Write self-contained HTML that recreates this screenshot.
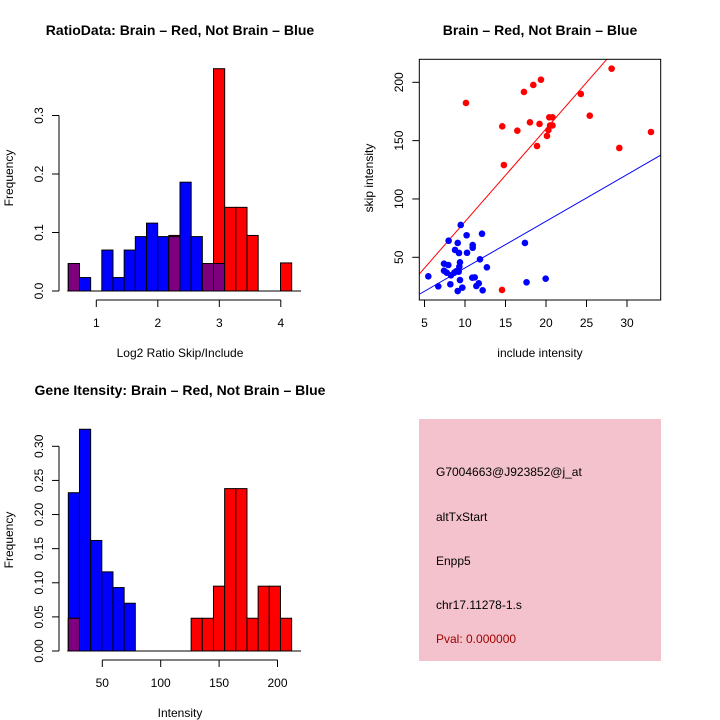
<!DOCTYPE html>
<html><head><meta charset="utf-8"><style>
body{margin:0;background:#fff}
svg{display:block;font-family:"Liberation Sans",sans-serif}
</style></head><body>
<svg id="c" width="720" height="720" viewBox="0 0 720 720">
<rect width="720" height="720" fill="#fff"/>
<text x="180" y="35" font-size="14" font-weight="bold" text-anchor="middle">RatioData: Brain – Red, Not Brain – Blue</text>
<text x="540" y="35" font-size="14" font-weight="bold" text-anchor="middle">Brain – Red, Not Brain – Blue</text>
<text x="180" y="395" font-size="14" font-weight="bold" text-anchor="middle">Gene Itensity: Brain – Red, Not Brain – Blue</text>
<text x="180" y="357" font-size="12" text-anchor="middle">Log2 Ratio Skip/Include</text>
<text transform="translate(13,178) rotate(-90)" font-size="12" text-anchor="middle">Frequency</text>
<text x="540" y="357" font-size="12" text-anchor="middle">include intensity</text>
<text transform="translate(373,178) rotate(-90)" font-size="12" text-anchor="middle">skip intensity</text>
<text x="180" y="717" font-size="12" text-anchor="middle">Intensity</text>
<text transform="translate(13,540) rotate(-90)" font-size="12" text-anchor="middle">Frequency</text>
<g>
<rect x="419" y="419" width="242" height="242" fill="#f4c2cc"/>
<text x="436" y="476" font-size="12">G7004663@J923852@j_at</text>
<text x="436" y="521" font-size="12">altTxStart</text>
<text x="436" y="565" font-size="12">Enpp5</text>
<text x="436" y="609" font-size="12">chr17.11278-1.s</text>
<text x="436" y="643" font-size="12" fill="#a00000">Pval: 0.000000</text>
</g>
<g id="h1"></g><g id="sc"></g><g id="h2"></g>
</svg>
<script>
// Ratio histogram data
const ratioBinStart = 0.545, ratioBinWidth = 0.1816;
const ratioBlue = [0.047,0.023,0,0.07,0.023,0.07,0.093,0.116,0.093,0.093,0.186,0.093,0.047,0.047,0,0,0,0,0,0];
const ratioRed  = [0.047,0,0,0,0,0,0,0,0,0.095,0,0,0.047,0.38,0.143,0.143,0.095,0,0,0.048];
const ratioXTicks = [1,2,3,4];
const ratioYTicks = ["0.0","0.1","0.2","0.3"];
// Intensity histogram data
const intBinStart = 20.9, intBinWidth = 9.56;
const intBlue = [0.232,0.325,0.162,0.116,0.093,0.07,0,0,0,0,0,0,0,0,0,0,0,0,0,0];
const intRed  = [0.048,0,0,0,0,0,0,0,0,0,0,0.048,0.048,0.095,0.238,0.238,0.048,0.095,0.095,0.048];
const intXTicks = [50,100,150,200];
const intYTicks = ["0.00","0.05","0.10","0.15","0.20","0.25","0.30"];
// Scatter data
const redX = [10.12,14.6,14.8,14.57,16.46,17.28,18.43,19.38,18.02,19.2,18.89,20.12,20.3,20.5,20.4,20.8,20.8,24.3,25.4,28.1,29.05,32.96];
const redY = [182.3,162.3,129.1,22,158.5,191.7,197.7,202.2,165.7,164.3,145.4,154,159.1,163,170,170,163,190,171.4,211.7,143.7,157.4];
const blueX = [5.47,6.7,7.98,9.47,9.1,10.2,12.1,8.77,9.26,10.25,10.95,10.95,11.85,12.7,17.4,17.6,19.96,7.41,7.94,7.41,7.74,8.27,8.68,9.22,9.38,9.3,8.19,9.1,9.67,9.38,10.9,11.2,11.7,11.4,12.18,8.9];
const blueY = [33.7,25.1,64.2,77.7,62.3,68.9,70.2,56.3,53.7,53.9,60.5,58.2,48.3,41.4,62.3,28.6,31.7,44.5,43.4,38.5,36.8,34.6,36.8,37.7,45.7,41.9,26.9,21.1,24,30.5,32.5,32.8,27.7,25.4,21.7,38];
const fitIntercept = [1.04,0.9];
const fitSlope = [7.95,4.0];
const scXTicks = [5,10,15,20,25,30];
const scYTicks = [50,100,150,200];

const NS="http://www.w3.org/2000/svg";
function mk(p,tag,a){const e=document.createElementNS(NS,tag);for(const k in a)e.setAttribute(k,a[k]);p.appendChild(e);return e;}

function hist(g,blue,red,start,w,xs,ys,y0,yUnitPx,xTicks,yTicks,yStep,axisY,name){
  const n=blue.length;
  for(let i=0;i<n;i++){
    const x0=xs(start+i*w),x1=xs(start+(i+1)*w);
    const b=blue[i],r=red[i],m=Math.min(b,r);
    const draw=(v,col,nm)=>{if(v<=0)return;const e=mk(g,'rect',{x:x0,y:ys(v),width:x1-x0,height:y0-ys(v),fill:col,stroke:'#000','stroke-width':1});
      
      };
    draw(b,'#0000ff',name+'-blue-bar-'+(i+1));
    draw(r,'#ff0000',name+'-red-bar-'+(i+1));
    if(m>0)draw(m,'#7f007f',name+'-overlap-bar-'+(i+1));
  }
  const base=mk(g,'line',{x1:xs(start)-1,x2:301,y1:y0,y2:y0,stroke:'#000'});
  
  
  const xa=mk(g,'line',{x1:xs(xTicks[0]),x2:xs(xTicks[xTicks.length-1]),y1:axisY,y2:axisY,stroke:'#000'});
  
  
  xTicks.forEach(t=>{mk(g,'line',{x1:xs(t),x2:xs(t),y1:axisY,y2:axisY+7,stroke:'#000'});
    const tx=mk(g,'text',{x:xs(t),y:axisY+27,'font-size':12,'text-anchor':'middle'});tx.textContent=t;
    
    });
  const ya=mk(g,'line',{x1:59,x2:59,y1:ys(0),y2:ys(yStep*(yTicks.length-1)),stroke:'#000'});
  
  
  yTicks.forEach((t,i)=>{const yy=ys(i*yStep);mk(g,'line',{x1:52,x2:59,y1:yy,y2:yy,stroke:'#000'});
    const tx=mk(g,'text',{transform:`translate(43,${yy}) rotate(-90)`,'font-size':12,'text-anchor':'middle'});tx.textContent=t;
    
    });
}
// top-left
hist(document.getElementById('h1'),ratioBlue,ratioRed,ratioBinStart,ratioBinWidth,
  v=>96.3+(v-1)*61.5, v=>291-v*585, 291, 585, ratioXTicks, ratioYTicks, 0.1, 300, 'ratio');
// bottom-left
hist(document.getElementById('h2'),intBlue,intRed,intBinStart,intBinWidth,
  v=>102.3+(v-50)*1.168, v=>651-v*682.3, 651, 682.3, intXTicks, intYTicks, 0.05, 660, 'intensity');

// scatter
(function(){
  const g=document.getElementById('sc');
  const xs=v=>424.5+(v-5)*8.1, ys=v=>257.3-(v-50)*1.1667;
  const L=419.3,R=660.7,T=59.3,B=300;
  const cp=mk(g,'clipPath',{id:'scclip'});mk(cp,'rect',{x:L,y:T,width:R-L,height:B-T});
  const cols=['#ff0000','#0000ff'];
  [0,1].forEach(k=>{const x0=(ys(220)>0?4.36:4.36),xa=(L-424.5)/8.1+5,xb=(R-424.5)/8.1+5;
    const ln=mk(g,'line',{x1:xs(xa),y1:ys(fitIntercept[k]+fitSlope[k]*xa),x2:xs(xb),y2:ys(fitIntercept[k]+fitSlope[k]*xb),stroke:cols[k],'stroke-width':1,'clip-path':'url(#scclip)'});
    
    });
  redX.forEach((x,i)=>{const c=mk(g,'circle',{cx:xs(x),cy:ys(redY[i]),r:3.3,fill:'#ff0000'});
    
    });
  blueX.forEach((x,i)=>{const c=mk(g,'circle',{cx:xs(x),cy:ys(blueY[i]),r:3.3,fill:'#0000ff'});
    
    });
  const box=mk(g,'rect',{x:L,y:T,width:R-L,height:B-T,fill:'none',stroke:'#000'});
  
  
  scXTicks.forEach(t=>{mk(g,'line',{x1:xs(t),x2:xs(t),y1:B,y2:B+7,stroke:'#000'});
    const tx=mk(g,'text',{x:xs(t),y:B+27,'font-size':12,'text-anchor':'middle'});tx.textContent=t;
    
    });
  scYTicks.forEach(t=>{mk(g,'line',{x1:L-7,x2:L,y1:ys(t),y2:ys(t),stroke:'#000'});
    const tx=mk(g,'text',{transform:`translate(403,${ys(t)}) rotate(-90)`,'font-size':12,'text-anchor':'middle'});tx.textContent=t;
    
    });
})();
</script>
</body></html>
